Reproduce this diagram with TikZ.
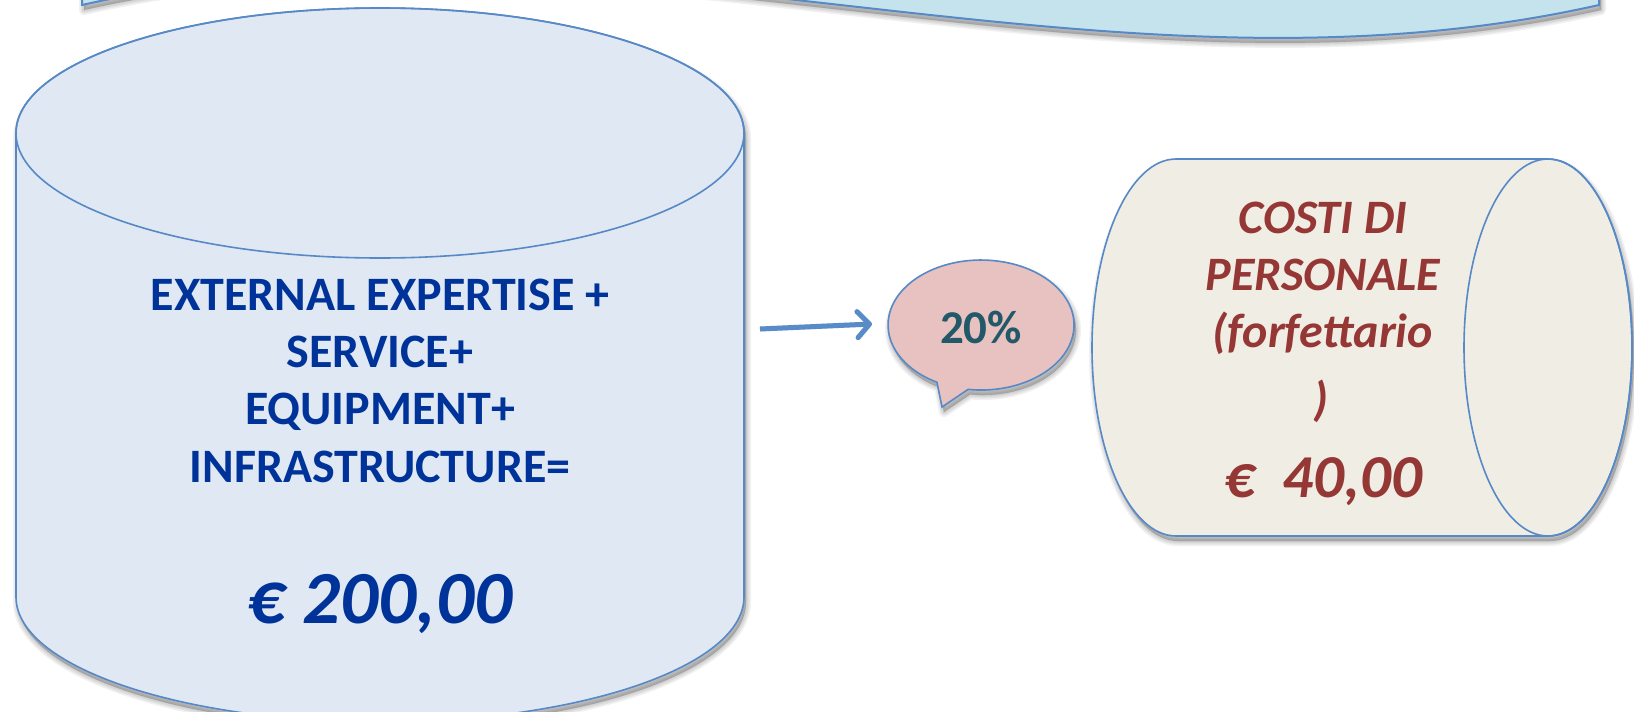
\documentclass[tikz,border=0pt]{standalone}
\usepackage{fontspec}
\setmainfont{Carlito}
\usetikzlibrary{arrows.meta}
\definecolor{edgec}{RGB}{86,137,198}
\definecolor{wavefill}{RGB}{196,227,236}
\definecolor{lcfill}{RGB}{223,232,243}
\definecolor{rcfill}{RGB}{239,237,228}
\definecolor{bubfill}{RGB}{232,193,193}
\definecolor{arrowc}{RGB}{88,140,200}
\definecolor{bluetext}{RGB}{0,51,153}
\definecolor{redtext}{RGB}{149,55,53}
\definecolor{tealtext}{RGB}{33,89,104}
\newcommand\softshadow[1]{%
  \foreach \w in {10,7,4,1}{%
    \fill[black,fill opacity=0.055,draw=black,draw opacity=0.055,line width=\w pt,line join=round,shift={(2pt,-5pt)}] #1;}}
\begin{document}
\begin{tikzpicture}[x=1pt,y=1pt,
  shapeedge/.style={draw=edgec,line width=1.6pt},
  ltext/.style={anchor=base,text=bluetext,inner sep=0pt,font=\fontsize{48}{58}\selectfont\bfseries},
  leuro/.style={anchor=base,text=bluetext,inner sep=0pt,font=\fontsize{75}{90}\selectfont\bfseries\itshape},
  rtext/.style={anchor=base,text=redtext,inner sep=0pt,font=\fontsize{48}{58}\selectfont\bfseries\itshape},
  reuro/.style={anchor=base,text=redtext,inner sep=0pt,font=\fontsize{61}{74}\selectfont\bfseries\itshape},
  pcttext/.style={anchor=base,text=tealtext,inner sep=0pt,font=\fontsize{47}{56}\selectfont\bfseries},
  flowarrow/.style={draw=arrowc,line width=5pt,-{Straight Barb[length=12pt,width=26pt,round]}}
]
\useasboundingbox (0,0) rectangle (1634,-712);
\clip (0,0) rectangle (1634,-712);
\fill[white] (0,0) rectangle (1634,-712);

% top wave banner
\def\wavepath{(82,80) -- (82,-5) .. controls (587.7,109) and (1093.3,-119) .. (1599,-5) -- (1599,80) -- cycle}
\softshadow{\wavepath}
\filldraw[fill=wavefill,draw=edgec,line width=2pt] \wavepath;

% left cylinder
\def\lcyl{(16,-133) -- (16,-597) arc[start angle=180,end angle=360,x radius=364pt,y radius=125pt] -- (744,-133) arc[start angle=0,end angle=180,x radius=364pt,y radius=125pt] -- cycle}
\softshadow{\lcyl}
\filldraw[fill=lcfill,shapeedge] \lcyl;
\draw[shapeedge] (380,-133) ellipse[x radius=364pt,y radius=125pt];

% right cylinder
\def\rcyl{(1176,-159) arc[start angle=90,end angle=270,x radius=84pt,y radius=188.5pt] -- (1548,-536) arc[start angle=-90,end angle=90,x radius=84pt,y radius=188.5pt] -- cycle}
\softshadow{\rcyl}
\filldraw[fill=rcfill,shapeedge] \rcyl;
\draw[shapeedge] (1548,-347.5) ellipse[x radius=84pt,y radius=188.5pt];

% speech bubble
\def\bubble{(968.1,-389.4) arc[start angle=262,end angle=601.7,x radius=93pt,y radius=65pt] -- (942,-407) -- cycle}
\softshadow{\bubble}
\filldraw[fill=bubfill,shapeedge,line join=miter] \bubble;

% arrow
\coordinate (as) at (760,-329);
\coordinate (ae) at (872,-324);
\draw[flowarrow,draw=black,draw opacity=0.12,shift={(1pt,-4pt)}] (as) -- (ae);
\draw[flowarrow] (as) -- (ae);

% texts
\node[ltext] (l1) at (380,-310) {EXTERNAL EXPERTISE +};
\node[ltext] (l2) at (380,-367) {SERVICE+};
\node[ltext] (l3) at (380,-424) {EQUIPMENT+};
\node[ltext] (l4) at (380,-482) {INFRASTRUCTURE=};
\node[leuro] (l5) at (380,-623) {€ 200,00};

\node[pcttext] (pct) at (981,-343) {20\%};

\node[rtext] (r1) at (1323,-233) {COSTI DI};
\node[rtext] (r2) at (1323,-290) {PERSONALE};
\node[rtext] (r3) at (1323,-347) {(forfettario};
\node[rtext] (r4) at (1321,-415) {)};
\node[reuro] (r5) at (1323,-497) {€~~40,00};
\end{tikzpicture}
\end{document}
